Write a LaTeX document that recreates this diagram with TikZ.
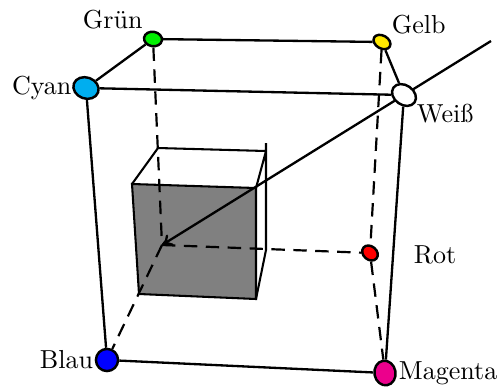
\documentclass[tikz,border=0pt]{standalone}
\usetikzlibrary{shapes.geometric,backgrounds,arrows.meta}
\definecolor{cCyan}{RGB}{0,174,239}
\definecolor{cGreen}{RGB}{0,240,0}
\definecolor{cYellow}{RGB}{255,232,0}
\definecolor{cMagenta}{RGB}{236,0,140}
\tikzset{
  vertex/.style={ellipse,draw=black,line width=0.95pt,inner sep=0pt,minimum width=#1},
  lbl/.style={anchor=base west,inner sep=0pt,outer sep=0pt,font=\fontsize{10.1}{12}\selectfont},
  edge/.style={line width=0.9pt},
  hidden/.style={line width=0.85pt,dash pattern=on 5.2pt off 3.3pt},
  cubeline/.style={line width=0.8pt,line join=miter}
}
\begin{document}
\begin{tikzpicture}[x=0.388pt,y=-0.388pt]
\useasboundingbox (0,0) rectangle (500,387);
% vertices
\node[vertex=10pt,minimum height=8.2pt,rotate=-20,fill=cCyan] (cyan) at (86,88) {};
\node[vertex=7pt,minimum height=5.6pt,rotate=-10,fill=cGreen] (gruen) at (153,39) {};
\node[vertex=7pt,minimum height=5pt,rotate=-30,fill=cYellow] (gelb) at (382,42) {};
\node[vertex=10pt,minimum height=7.6pt,rotate=-35,fill=white] (weiss) at (404,95) {};
\node[vertex=6.6pt,minimum height=5.2pt,rotate=-40,fill=red] (rot) at (370,253) {};
\node[vertex=9.6pt,minimum height=8.2pt,rotate=-80,fill=cMagenta] (magenta) at (385,373) {};
\node[vertex=8.6pt,minimum height=8.6pt,fill=blue] (blau) at (107,360) {};
\coordinate (mid) at (162,245);
\coordinate (far) at (491,41);
% inner cube corners
\coordinate (fTL) at (132,184);
\coordinate (fTR) at (256,188);
\coordinate (fBR) at (256,299);
\coordinate (fBL) at (139,294);
\coordinate (bTL) at (158,148);
\coordinate (bTR) at (266,151);
\coordinate (bBR) at (266,250);
\coordinate (bTop) at (266,143);
\begin{pgfonlayer}{background}
  \draw[cubeline,fill=black!50] (fTL) -- (fTR) -- (fBR) -- (fBL) -- cycle;
  \draw[cubeline] (fTL) -- (bTL) -- (bTR) (fTR) -- (bTR) (bTop) -- (bBR) -- (fBR);
  \draw[hidden] (gruen) -- (mid);
  \draw[hidden] (mid) -- (rot);
  \draw[hidden] (mid) -- (blau);
  \draw[hidden] (gelb) -- (rot);
  \draw[hidden] (rot) -- (magenta);
  \draw[edge] (cyan) -- (gruen);
  \draw[edge] (gruen) -- (gelb);
  \draw[edge] (gelb) -- (weiss);
  \draw[edge] (cyan) -- (weiss);
  \draw[edge] (cyan) -- (blau);
  \draw[edge] (weiss) -- (magenta);
  \draw[edge] (blau) -- (magenta);
  \draw[edge,-{To[length=4pt,width=5pt]}] (far) -- (mid);
\end{pgfonlayer}
% labels
\node[lbl] (lgruen) at (83,28) {Grün};
\node[lbl] (lcyan) at (12,94) {Cyan};
\node[lbl] (lgelb) at (392,33) {Gelb};
\node[lbl] (lweiss) at (417,122) {Weiß};
\node[lbl] (lrot) at (414,263) {Rot};
\node[lbl] (lmagenta) at (399,379) {Magenta};
\node[lbl] (lblau) at (40,368) {Blau};
\end{tikzpicture}
\end{document}
